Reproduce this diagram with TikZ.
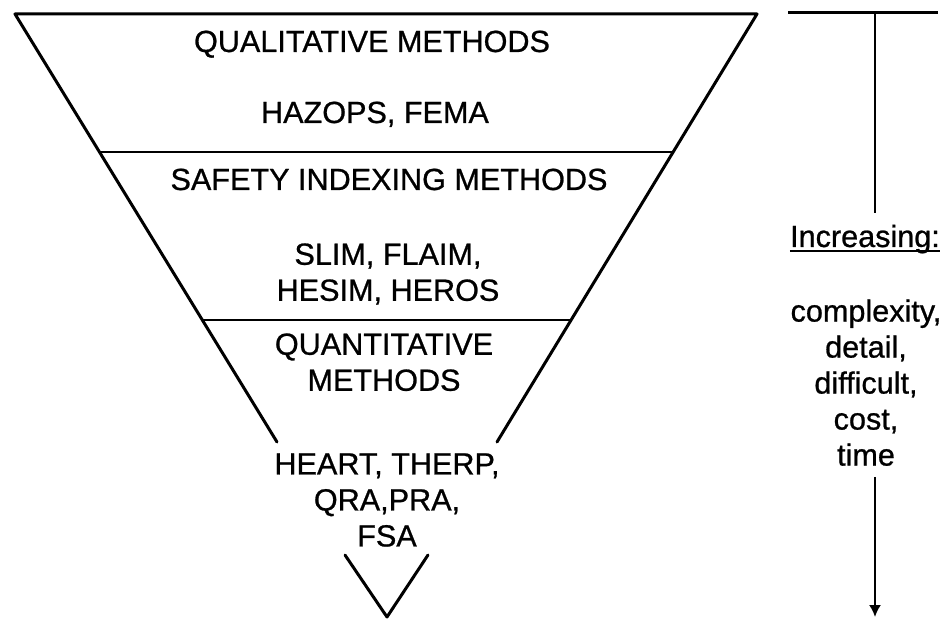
\documentclass[tikz,border=0pt]{standalone}
\usepackage{fontspec}
\setmainfont{Liberation Sans}[FakeBold=0.8]
\usetikzlibrary{calc,arrows.meta}
\begin{document}
\begin{tikzpicture}[x=0.5pt,y=-0.5pt,
  tiertext/.style={inner sep=0pt, anchor=base, align=center,
    font=\fontsize{15.3pt}{18pt}\selectfont},
  tierblock/.style={tiertext, anchor=north},
  sidetext/.style={inner sep=0pt, anchor=base, align=center,
    font=\fontsize{15.3pt}{18pt}\selectfont},
  sideblock/.style={sidetext, anchor=north},
  funnel/.style={line width=1.5pt, line cap=round, line join=round},
  divider/.style={line width=1pt},
  scale line/.style={line width=1pt},
  bar/.style={line width=1.5pt}]
\useasboundingbox (0,0) rectangle (949,620);

% funnel outline
\coordinate (tl) at (15,14);
\coordinate (tr) at (757,14);
\coordinate (bl) at (277,442);
\coordinate (br) at (497,442);
\draw[funnel] (bl) -- (tl) -- (tr) -- (br);

% tier dividers
\coordinate (d1l) at ($(tl)!0.3224!(bl)$);
\coordinate (d1r) at ($(tr)!0.3224!(br)$);
\coordinate (d2l) at ($(tl)!0.7150!(bl)$);
\coordinate (d2r) at ($(tr)!0.7150!(br)$);
\draw[divider] (d1l) -- (d1r);
\draw[divider] (d2l) -- (d2r);

% small tip below the funnel
\coordinate (vl) at (345,555);
\coordinate (vb) at (387,617);
\coordinate (vr) at (428,555);
\draw[funnel] (vl) -- (vb) -- (vr);

% tier labels
\node[tiertext]  (qual)  at (372,52)  {QUALITATIVE METHODS};
\node[tiertext]  (hazop) at (375,123) {HAZOPS, FEMA};
\node[tiertext]  (safe)  at (389,190) {SAFETY INDEXING METHODS};
\node[tierblock] (slim)  at (388,243) {SLIM, FLAIM,\\HESIM, HEROS};
\node[tierblock] (quant) at (384,333) {QUANTITATIVE\\METHODS};
\node[tierblock] (heart) at (387,453) {HEART, THERP,\\QRA,PRA,\\FSA};

% increasing scale on the right
\coordinate (sl) at (788,13);
\coordinate (sr) at (938,13);
\coordinate (stop) at (875,13);
\coordinate (send) at (875,213);
\coordinate (astart) at (875,477);
\coordinate (aend) at (875,617);
\draw[bar] (sl) -- (sr);
\draw[scale line] (stop) -- (send);

\node[sidetext] (inc) at (865,247) {Increasing:};
\draw[line width=1pt] ([yshift=-2pt]inc.base west) -- ([yshift=-2pt]inc.base east);
\node[sideblock] (props) at (866,299) {complexity,\\detail,\\difficult,\\cost,\\time};

\draw[scale line, -{Latex[length=6pt,width=6pt]}] (astart) -- (aend);
\end{tikzpicture}
\end{document}
